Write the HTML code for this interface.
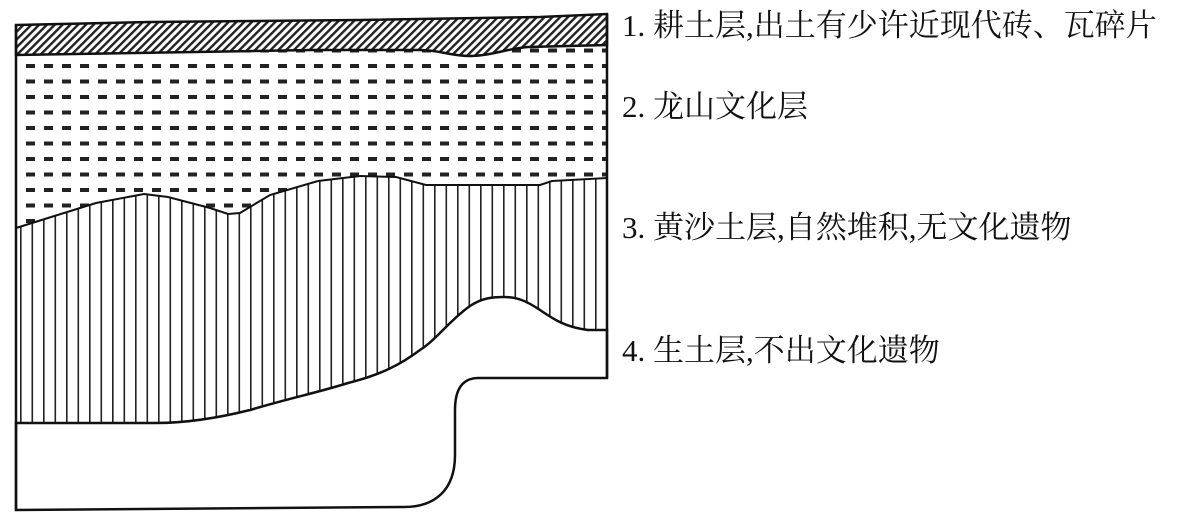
<!DOCTYPE html>
<html><head><meta charset="utf-8"><style>
html,body{margin:0;padding:0;background:#fff;}
.t{position:absolute;left:622px;font-family:"Liberation Serif","Noto Serif CJK SC",serif;font-size:31px;color:#111;white-space:nowrap;line-height:1;}
</style></head><body>
<div style="position:relative;width:1192px;height:518px;overflow:hidden;">
<svg width="1192" height="518" style="position:absolute;left:0;top:0">
<defs>
<pattern id="hatch" width="5.5" height="5.5" patternUnits="userSpaceOnUse" patternTransform="rotate(45)">
<rect width="5.5" height="5.5" fill="#fff"/><rect width="2.4" height="5.5" fill="#222"/>
</pattern>
<pattern id="dash" x="24" y="59" width="18" height="15.5" patternUnits="userSpaceOnUse">
<rect x="2" y="5" width="9" height="4" fill="#222"/>
</pattern>
<pattern id="vert" x="20" y="0" width="11.5" height="20" patternUnits="userSpaceOnUse">
<rect x="0" y="0" width="1.6" height="20" fill="#222"/>
</pattern>
</defs>
<path d="M16,55 L607,45 L607,178 L552,181 L540,185 L426,185 L396,177 L360,176 L318,181 L270,195 L240,213 L228,214 L210,208 L168,197 L144,194 L96,203 L48,218 L16,228 Z" fill="url(#dash)"/>
<path d="M16,228 L48,218 L96,203 L144,194 L168,197 L210,208 L228,214 L240,213 L270,195 L318,181 L360,176 L396,177 L426,185 L540,185 L552,181 L607,178 L607,330 L588,330 C564,327 552,318 540,310 C525,300 516,297 504,297 C492,297 482,298 470,306 C450,320 436,340 420,350 C400,365 380,375 348,383 C320,392 290,398 250,410 C210,420 180,423 156,423 L16,423 Z" fill="url(#vert)" stroke="#111" stroke-width="2"/>
<path d="M16,25 L150,22 L360,20 L540,17 L607,14 L607,45 L528,47 C510,48 490,56 470,56 C450,56 440,50 420,50 L312,50 L16,55 Z" fill="url(#hatch)" stroke="#111" stroke-width="2.5"/>
<path d="M16,423 L156,423 C180,423 210,420 250,410 C290,398 320,392 348,383 C380,375 400,365 420,350 C436,340 450,320 470,306 C482,298 492,297 504,297 C516,297 525,300 540,310 C552,318 564,327 588,330 L607,330 L607,378 L478,378 C462,378 455,390 455,410 L455,455 C455,490 435,507 404,507 L16,510 Z" fill="#fff" stroke="#111" stroke-width="2.5"/>
<line x1="16" y1="25" x2="16" y2="510" stroke="#111" stroke-width="2.5"/>
<line x1="607" y1="14" x2="607" y2="378" stroke="#111" stroke-width="2.5"/>
</svg>
<div class="t" style="top:10px">1. 耕土层,出土有少许近现代砖、瓦碎片</div>
<div class="t" style="top:91px">2. 龙山文化层</div>
<div class="t" style="top:212px">3. 黄沙土层,自然堆积,无文化遗物</div>
<div class="t" style="top:335px">4. 生土层,不出文化遗物</div>
</div>
</body></html>
